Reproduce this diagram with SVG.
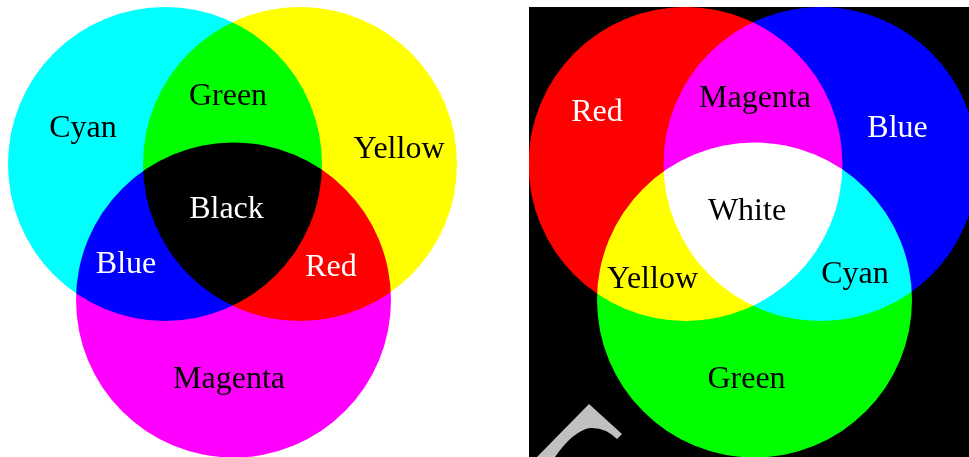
<svg xmlns="http://www.w3.org/2000/svg" width="969" height="457" viewBox="0 0 969 457">
<style>
text{font-family:"Liberation Serif","Times New Roman",serif;font-size:32px;text-anchor:middle}
.w{fill:#fff}.k{fill:#000}
.sub{mix-blend-mode:multiply}
.add{mix-blend-mode:screen}
</style>
<rect x="0" y="0" width="969" height="457" fill="#fff"/>
<g id="subtractive">
<g id="cyan-circle"><circle class="sub" cx="165" cy="164" r="157" fill="#00ffff"/></g>
<g id="yellow-circle"><circle class="sub" cx="300" cy="164" r="157" fill="#ffff00"/></g>
<g id="magenta-circle"><circle class="sub" cx="233.5" cy="300" r="157.5" fill="#ff00ff"/></g>
<g id="sub-labels">
<text class="k" x="83" y="137">Cyan</text>
<text class="k" x="228" y="105">Green</text>
<text class="k" x="399" y="158">Yellow</text>
<text class="w" x="226.5" y="218">Black</text>
<text class="w" x="126" y="273">Blue</text>
<text class="w" x="331" y="276">Red</text>
<text class="k" x="229" y="388">Magenta</text>
</g>
</g>
<g id="additive">
<rect x="529" y="7" width="440" height="450" fill="#000"/>
<g id="red-circle"><circle class="add" cx="685.5" cy="164" r="157" fill="#ff0000"/></g>
<g id="blue-circle"><circle class="add" cx="820.5" cy="164" r="157" fill="#0000ff"/></g>
<g id="green-circle"><circle class="add" cx="754.5" cy="300" r="157.5" fill="#00ff00"/></g>
<path d="M589,404 L622,434 L617,439 Q605,427 590,428 Q573,431 555,457 L537,457 Z" fill="#c0c0c0"/>
<g id="add-labels">
<text class="w" x="597" y="121">Red</text>
<text class="k" x="755" y="107">Magenta</text>
<text class="w" x="897.5" y="137">Blue</text>
<text class="k" x="747" y="220">White</text>
<text class="k" x="652.5" y="288">Yellow</text>
<text class="k" x="855" y="283">Cyan</text>
<text class="k" x="746.5" y="388">Green</text>
</g>
</g>
</svg>
